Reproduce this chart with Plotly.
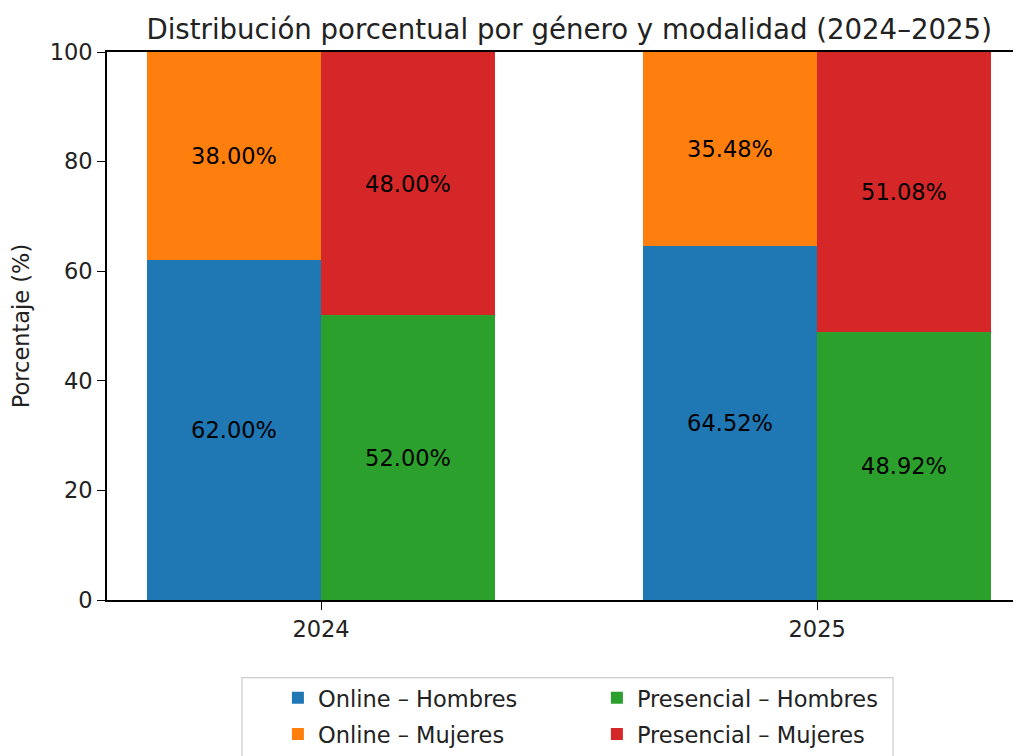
import plotly.graph_objects as go

years = ["2024", "2025"]
online_hombres = [62.00, 64.52]
online_mujeres = [38.00, 35.48]
presencial_hombres = [52.00, 48.92]
presencial_mujeres = [48.00, 51.08]
y_ticks = [0, 20, 40, 60, 80, 100]

colors = {"oh": "#1f77b4", "om": "#ff7f0e", "ph": "#2ca02c", "pm": "#d62728"}
font = "DejaVu Sans"
fs = 22.5
width = 0.35
pos = list(range(len(years)))
x_online = [p - width / 2 for p in pos]
x_pres = [p + width / 2 for p in pos]

fig = go.Figure()


def add_bar(x, vals, name, color, legend):
    fig.add_trace(go.Bar(
        x=x, y=vals, width=width, name=name,
        marker=dict(color=color, line=dict(width=0)),
        text=[f"{v:.2f}%" for v in vals], textposition="inside",
        insidetextanchor="middle", textangle=0,
        textfont=dict(color="black", size=fs, family=font),
        legend=legend, legendgroup=name,
    ))


add_bar(x_online, online_hombres, "Online – Hombres", colors["oh"], "legend")
add_bar(x_online, online_mujeres, "Online – Mujeres", colors["om"], "legend")
add_bar(x_pres, presencial_hombres, "Presencial – Hombres", colors["ph"], "legend2")
add_bar(x_pres, presencial_mujeres, "Presencial – Mujeres", colors["pm"], "legend2")

leg = dict(font=dict(family=font, size=fs, color="#222"), bgcolor="rgba(0,0,0,0)",
           yanchor="top", xanchor="left", tracegroupgap=4, traceorder="grouped")

# page body has an 8px margin, so the figure is 8px smaller than the window
fig.update_layout(
    width=1013, height=748,
    margin=dict(l=99, r=0, t=44, b=153),
    paper_bgcolor="white", plot_bgcolor="white",
    barmode="relative", bargap=0,
    uniformtext=dict(mode="show", minsize=10),
    title=dict(text="Distribución porcentual por género y modalidad (2024–2025)",
               x=0.554, xanchor="center", y=0.972, yanchor="middle",
               font=dict(family=font, size=27.6, color="#222")),
    font=dict(family=font, size=fs, color="#222"),
    xaxis=dict(range=[-0.4315, 1.411], tickvals=pos, ticktext=years,
               showgrid=False, zeroline=False, showline=True, mirror=True,
               linecolor="black", linewidth=1.6, ticks="outside", ticklen=8,
               tickcolor="black", tickfont=dict(family=font, size=fs, color="#222")),
    yaxis=dict(range=[0, 100], tickvals=y_ticks, showgrid=False, zeroline=False,
               showline=True, linecolor="black", linewidth=1.6, ticks="outside",
               ticklen=8, tickcolor="black",
               tickfont=dict(family=font, size=fs, color="#222"),
               title=dict(text="Porcentaje (%)", standoff=16,
                          font=dict(family=font, size=fs, color="#222"))),
    legend=dict(x=0.187, y=-0.14, **leg),
    legend2=dict(x=0.536, y=-0.14, **leg),
    shapes=[dict(type="rect", xref="paper", yref="paper",
                 x0=0.1477, x1=0.86, y0=-0.30, y1=-0.1416,
                 line=dict(color="#cccccc", width=1.2), fillcolor="rgba(0,0,0,0)")],
)

fig.write_html("out.html")
